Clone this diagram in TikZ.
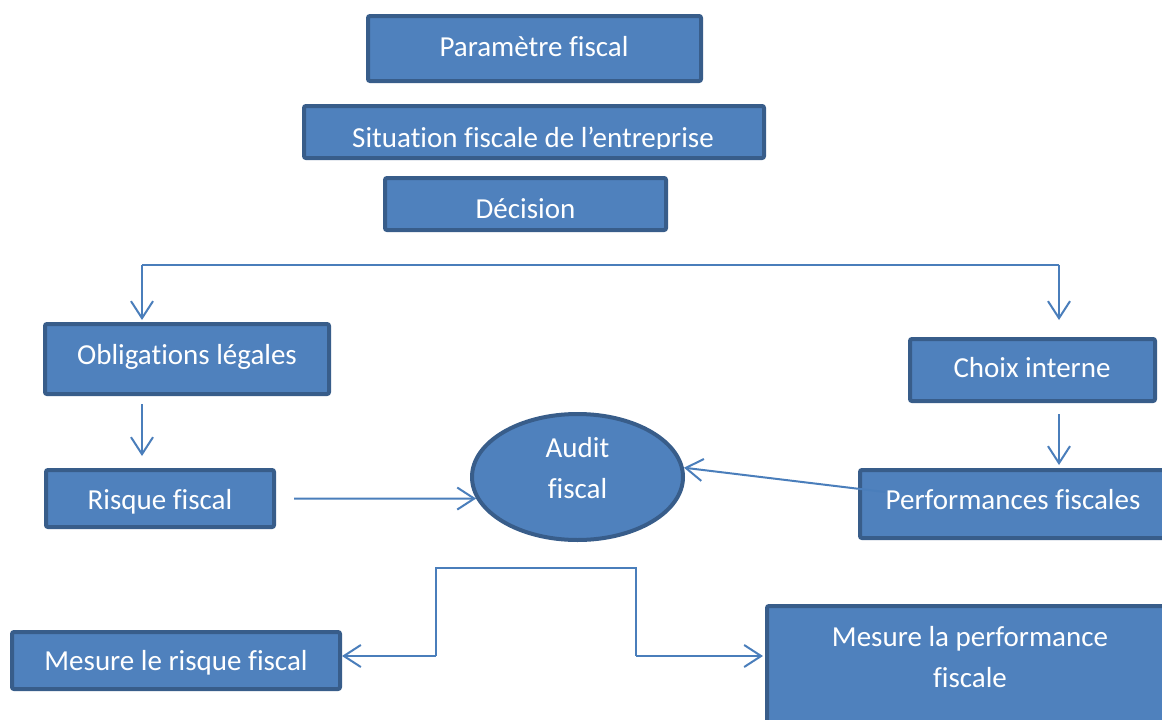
\documentclass[tikz,border=0pt]{standalone}
\usepackage{fontspec}
\setmainfont[Ligatures={NoCommon}]{Carlito}
\usetikzlibrary{arrows.meta,shapes.geometric}
\definecolor{boxfill}{HTML}{4F81BD}
\definecolor{boxline}{HTML}{385D8A}
\definecolor{conncol}{HTML}{4A7EBB}
\begin{document}
\begin{tikzpicture}[x=1pt,y=-1pt,
  box/.style={rectangle, draw=boxline, fill=boxfill, line width=4pt, rounded corners=2pt, inner sep=0pt},
  lbl/.style={text=white, inner sep=0pt, anchor=base, font=\fontsize{29}{41}\selectfont},
  conn/.style={draw=conncol, line width=2pt},
  arr/.style={conn, -{Straight Barb[length=17pt,width=22pt]}}]
\fill[white] (0,0) rectangle (1162,720);
\useasboundingbox (0,0) rectangle (1162,720);

% boxes
\node[box, minimum width=333pt, minimum height=65pt] (param) at (534.5,48.5) {};
\node[lbl] (paramt) at (534,56) {Paramètre fiscal};

\node[box, minimum width=460pt, minimum height=52pt] (situ) at (534,132) {};
\begin{scope}
  \clip (302,100) rectangle (766,148);
  \node[lbl] (situt) at (533,147) {Situation fiscale de l’entreprise};
\end{scope}

\node[box, minimum width=281pt, minimum height=52pt] (deci) at (525.5,204) {};
\node[lbl] (decit) at (525.5,218) {Décision};

\node[box, minimum width=284pt, minimum height=70pt] (oblig) at (187,359) {};
\node[lbl] (obligt) at (187,364) {Obligations légales};

\node[box, minimum width=228pt, minimum height=57pt] (risque) at (160,498.5) {};
\node[lbl] (risquet) at (160,509) {Risque fiscal};

\node[box, minimum width=245pt, minimum height=62pt] (choix) at (1032.5,370) {};
\node[lbl] (choixt) at (1032,377) {Choix interne};

\node[box, minimum width=306pt, minimum height=68pt] (perf) at (1013,504) {};
\node[lbl] (perft) at (1013,509) {Performances fiscales};

\node[ellipse, draw=boxline, fill=boxfill, line width=4pt, inner sep=0pt,
      minimum width=211pt, minimum height=126pt] (audit) at (577.5,477) {};
\node[lbl] (auditt1) at (577.5,457) {Audit};
\node[lbl] (auditt2) at (577.5,498) {fiscal};

\node[box, minimum width=328pt, minimum height=57pt] (mrisk) at (176,660.5) {};
\node[lbl] (mriskt) at (176,670) {Mesure le risque fiscal};

\node[box, minimum width=406pt, minimum height=132pt] (mperf) at (970,672) {};
\node[lbl] (mperft1) at (970,646) {Mesure la performance};
\node[lbl] (mperft2) at (970,687) {fiscale};

% connectors
\coordinate (tl) at (142,265);
\coordinate (tr) at (1059,265);
\draw[conn] (tl) -- (tr);
\draw[arr, shorten >=2pt] (tl) -- (tl |- oblig.north);
\draw[arr, shorten >=17pt] (tr) -- (tr |- choix.north);
\draw[arr, shorten <=8pt, shorten >=12pt] (tl |- oblig.south) -- (tl |- risque.north);
\draw[arr, shorten <=11pt, shorten >=3pt] (tr |- choix.south) -- (tr |- perf.north);
\draw[arr] ([xshift=18pt]risque.east) -- (audit.192);
\coordinate (pfs) at (885,492);
\draw[arr] (pfs) -- (audit.5);

\coordinate (bl) at (436,656);
\coordinate (tl2) at (436,568);
\coordinate (tr2) at (636,568);
\coordinate (br) at (636,656);
\draw[conn] (bl) -- (tl2) -- (tr2) -- (br);
\draw[arr] (bl) -- (bl -| mrisk.east);
\draw[arr, shorten >=2pt] (br) -- (br -| mperf.west);
\end{tikzpicture}
\end{document}
